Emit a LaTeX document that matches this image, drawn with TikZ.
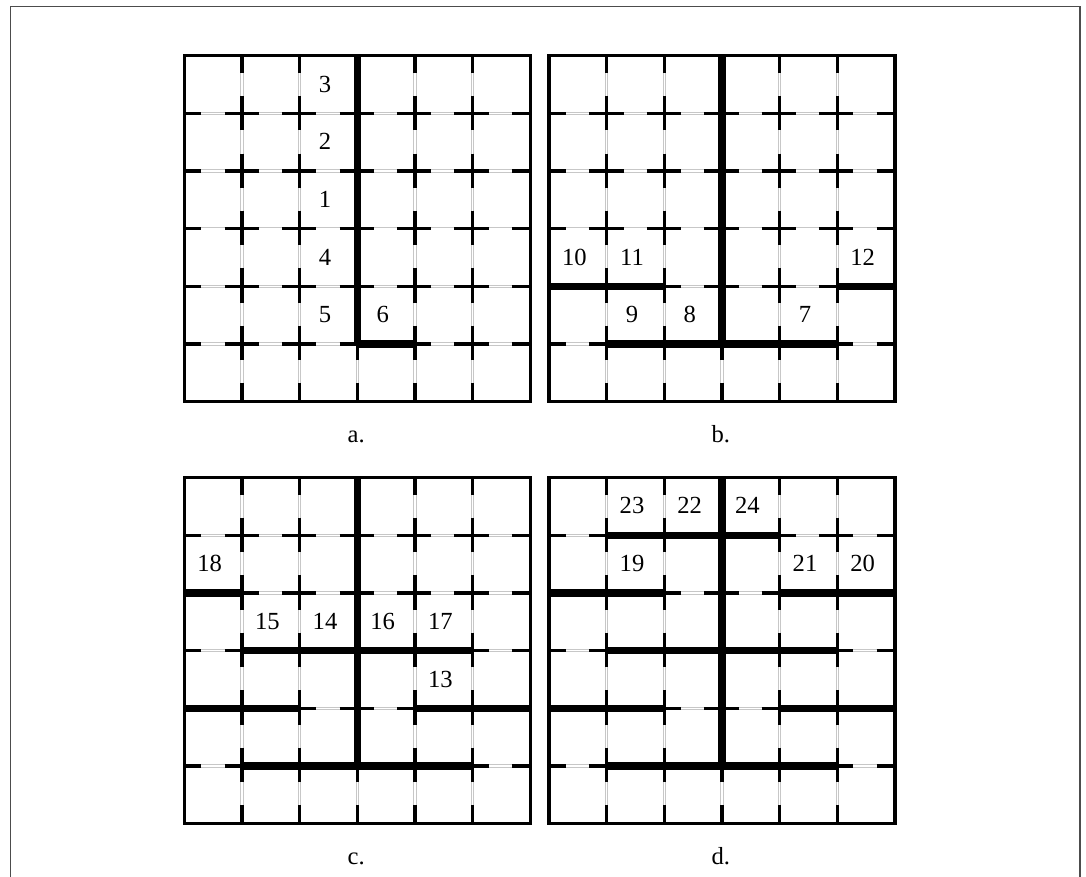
\documentclass[tikz,border=0pt]{standalone}
\usepackage{fontspec}
\setmainfont{Liberation Serif}
\usepackage{xcolor}
\definecolor{gapgray}{gray}{0.78}
\tikzset{
  framebox/.style={draw=black!70,line width=0.7pt},
  gapline/.style={draw=gapgray,line width=2pt},
  gapcore/.style={draw=white,line width=0.9pt},
  gridline/.style={draw=black,line width=2pt,dash pattern=on 19.5pt off 13.2pt},
  outline/.style={draw=black,line width=2pt},
  wall/.style={draw=black,line width=4.3pt},
  num/.style={font=\fontsize{14}{16}\selectfont,inner sep=0pt,anchor=base},
  capt/.style={font=\fontsize{14}{16}\selectfont,inner sep=0pt,anchor=base}
}
% one 6x6 board, row numbers counted from the top
\newcommand{\board}{
  \foreach \i in {1,...,5} {
    \draw[gapline] (\i,0) -- (\i,6);
    \draw[gapline] (0,\i) -- (6,\i);
    \draw[gapcore] (\i,0) -- (\i,6);
    \draw[gapcore] (0,\i) -- (6,\i);
    \draw[gridline,dash phase=9.75pt] (\i,0) -- (\i,6);
    \draw[gridline,dash phase=9.75pt] (0,\i) -- (6,\i);
  }
  \draw[outline] (0,0) rectangle (6,6);
}
\begin{document}
\begin{tikzpicture}[x=1.1534cm,y=-1.1534cm]
\useasboundingbox (-3.196,-0.966) rectangle (15.636,14.241);
\draw[framebox] (-3.014,14.241) -- (-3.014,-0.853) -- (15.53,-0.853) -- (15.53,14.241);

% a
\begin{scope}[shift={(0,0)}]
  \board
  \draw[wall] (3,0) -- (3,5);
  \draw[wall] (3,5) -- (4,5);
  \foreach \t/\c/\r in {3/2/0,2/2/1,1/2/2,4/2/3,5/2/4,6/3/4}
    \node[num] (a\t) at (\c+.44,\r+.63) {\t};
  \node[capt] (capa) at (2.98,6.70) {a.};
\end{scope}

% b
\begin{scope}[shift={(6.324,0)}]
  \board
  \draw[wall] (3,0) -- (3,5);
  \draw[wall] (1,5) -- (5,5);
  \draw[wall] (0,4) -- (2,4);
  \draw[wall] (5,4) -- (6,4);
  \foreach \t/\c/\r in {10/0/3,11/1/3,12/5/3,9/1/4,8/2/4,7/4/4}
    \node[num] (b\t) at (\c+.44,\r+.63) {\t};
  \node[capt] (capb) at (2.98,6.70) {b.};
\end{scope}

% c
\begin{scope}[shift={(0,7.317)}]
  \board
  \draw[wall] (3,0) -- (3,5);
  \draw[wall] (1,5) -- (5,5);
  \draw[wall] (0,4) -- (2,4);
  \draw[wall] (4,4) -- (6,4);
  \draw[wall] (1,3) -- (5,3);
  \draw[wall] (0,2) -- (1,2);
  \foreach \t/\c/\r in {18/0/1,15/1/2,14/2/2,16/3/2,17/4/2,13/4/3}
    \node[num] (c\t) at (\c+.44,\r+.63) {\t};
  \node[capt] (capc) at (2.98,6.70) {c.};
\end{scope}

% d
\begin{scope}[shift={(6.324,7.317)}]
  \board
  \draw[wall] (3,0) -- (3,5);
  \draw[wall] (1,5) -- (5,5);
  \draw[wall] (0,4) -- (2,4);
  \draw[wall] (4,4) -- (6,4);
  \draw[wall] (1,3) -- (5,3);
  \draw[wall] (0,2) -- (2,2);
  \draw[wall] (4,2) -- (6,2);
  \draw[wall] (1,1) -- (4,1);
  \foreach \t/\c/\r in {23/1/0,22/2/0,24/3/0,19/1/1,21/4/1,20/5/1}
    \node[num] (d\t) at (\c+.44,\r+.63) {\t};
  \node[capt] (capd) at (2.98,6.70) {d.};
\end{scope}
\end{tikzpicture}
\end{document}
